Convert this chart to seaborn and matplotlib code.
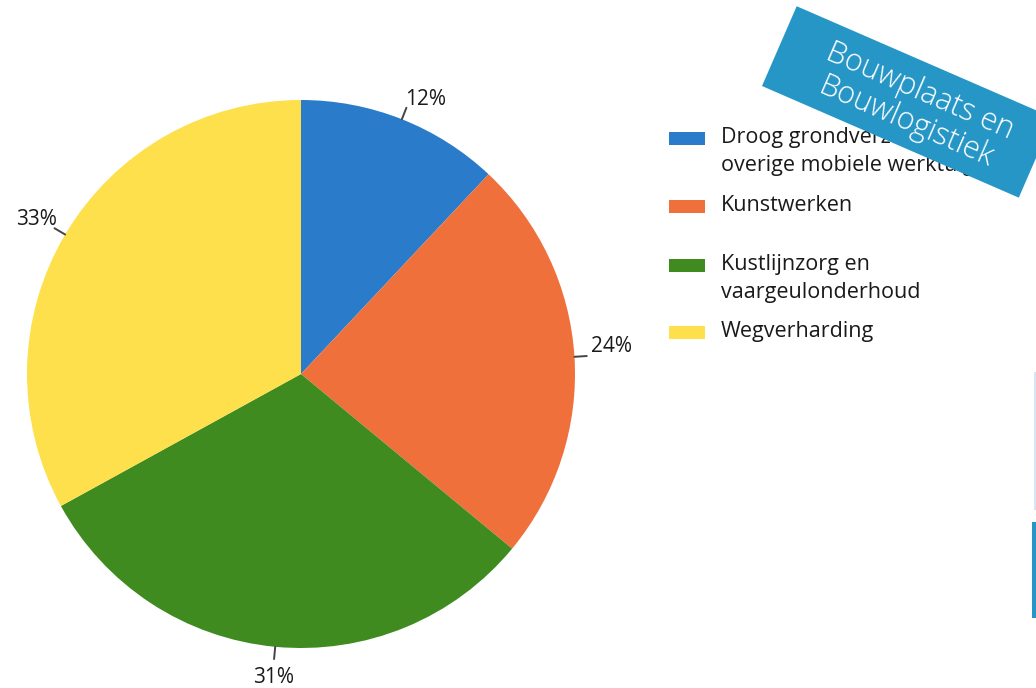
import matplotlib
matplotlib.use("agg")
import matplotlib.pyplot as plt
import matplotlib.patches as mpatches
import numpy as np
import seaborn as sns

categories = ["Droog grondverzet en\noverige mobiele werktuigen",
              "Kunstwerken",
              "Kustlijnzorg en\nvaargeulonderhoud",
              "Wegverharding"]
shares = [12, 24, 31, 33]
colors = ["#2a7bc9", "#ef703a", "#3f8b20", "#fde04b"]
banner_text = "Bouwplaats en\nBouwlogistiek"

sns.set_theme(style="white")
plt.rcParams['font.family'] = ['Open Sans', 'DejaVu Sans']

W, H = 1036, 688
fig = plt.figure(figsize=(W / 100, H / 100), dpi=100)
fig.patch.set_facecolor("white")

# pie axes: centre (301, 374), radius 274 px
cx, cy, r = 301, 374, 274
ax = fig.add_axes([(cx - r) / W, (H - cy - r) / H, 2 * r / W, 2 * r / H])
wedges, _ = ax.pie(shares, colors=colors, startangle=90, counterclock=False,
                   wedgeprops=dict(linewidth=0))
ax.set_xlim(-1, 1)
ax.set_ylim(-1, 1)
ax.set_aspect("equal")
ax.axis("off")

for w, s in zip(wedges, shares):
    ang = np.deg2rad((w.theta1 + w.theta2) / 2)
    x, y = np.cos(ang), np.sin(ang)
    ax.plot([x * 1.0, x * 1.045], [y * 1.0, y * 1.045], color="#444444", lw=1.4,
            clip_on=False)
    ha = "left" if x > 0.3 else ("right" if x < -0.3 else "center")
    va = "bottom" if y > 0.3 else ("top" if y < -0.3 else "center")
    rr = {"bottom": 1.035, "top": 1.075, "center": 1.06}[va]
    ax.text(x * rr, y * rr + (0.035 if va == "center" else 0), f"{s}%",
            ha=ha, va=va, fontsize=15, color="#1a1a1a", clip_on=False)

# overlay axes in pixel coords for legend and banner
ov = fig.add_axes([0, 0, 1, 1])
ov.set_xlim(0, W)
ov.set_ylim(0, H)
ov.axis("off")
ov.patch.set_alpha(0)

leg_mid = [138, 206, 265, 332]
for lab, c, ym in zip(categories, colors, leg_mid):
    ov.add_patch(mpatches.Rectangle((669, H - ym - 6.5), 36, 13, color=c, lw=0))
    ov.text(721, H - ym + 11, lab, ha="left", va="top", fontsize=15.5,
            color="#1a1a1a", linespacing=1.45)

# banner
ang = -23.5
ov.add_patch(mpatches.Rectangle((762, H - 86), 280, 87, angle=ang,
                                color="#2596c6", lw=0, zorder=5))
ov.text(913, H - 107, banner_text, rotation=ang, rotation_mode="anchor",
        ha="center", va="center", fontsize=22, color="white",
        fontweight="light", linespacing=1.1, zorder=6)

# fragment at right edge
ov.add_patch(mpatches.Rectangle((1032, H - 618), 4, 96, color="#2596c6", lw=0))
ov.add_patch(mpatches.Rectangle((1034, H - 510), 2, 138, color="#d6e6f5", lw=0))

fig.savefig("out.png", dpi=100)
